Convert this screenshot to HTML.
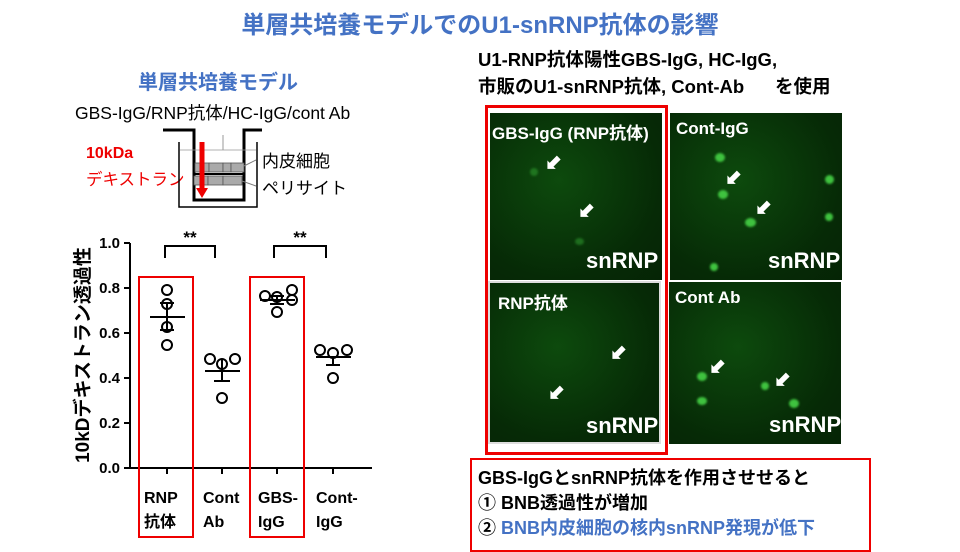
<!DOCTYPE html>
<html><head><meta charset="utf-8"><style>
body{margin:0;width:960px;height:540px;background:#fff;overflow:hidden;position:relative;font-family:"Liberation Sans","Noto Sans CJK JP",sans-serif;font-weight:bold}
.a{position:absolute;white-space:nowrap}
.p{position:absolute;background:radial-gradient(ellipse at 40% 40%,#0d4a0d,#062a06 70%,#052405);overflow:hidden}
.t{position:absolute;color:#fff;font-size:19px}
.n{position:absolute;border-radius:50%;background:#3fc23f;filter:blur(1px)}
.ar{position:absolute;color:#fff;font-size:20px;line-height:20px}
</style></head><body>
<div class="a" style="left:0;width:960px;text-align:center;top:5px;font-size:24px;color:#4472c4">単層共培養モデルでのU1-snRNP抗体の影響</div>
<div class="a" style="left:138px;top:66px;font-size:20px;color:#4472c4">単層共培養モデル</div>
<div class="a" style="left:75px;top:100px;font-size:17.5px;font-weight:normal">GBS-IgG/RNP抗体/HC-IgG/cont Ab</div>
<div class="a" style="left:86px;top:145px;font-size:16px;color:#e00">10kDa</div>
<div class="a" style="left:86px;top:166px;font-size:16.5px;color:#e00;font-weight:normal">デキストラン</div>
<div class="a" style="left:262px;top:147px;font-size:17px;font-weight:normal">内皮細胞</div>
<div class="a" style="left:262px;top:174px;font-size:17px;font-weight:normal">ペリサイト</div>
<svg class="a" style="left:0;top:0" width="470" height="540">
<path d="M163 130H194V200H244V130H262" fill="none" stroke="#000" stroke-width="3"/>
<path d="M179 142V207H257V142" fill="none" stroke="#000" stroke-width="1.5"/>
<line x1="180" y1="150" x2="256" y2="150" stroke="#999" stroke-width="0.8"/>
<line x1="223" y1="135" x2="223" y2="150" stroke="#999"/>
<g fill="#aaa" stroke="#555" stroke-width="0.8"><rect x="195" y="163" width="14" height="9"/><rect x="209" y="163" width="14" height="9"/><rect x="223" y="163" width="8" height="9"/><rect x="231" y="163" width="13" height="9"/>
<rect x="194" y="176" width="14" height="9"/><rect x="208" y="176" width="15" height="9"/><rect x="223" y="176" width="19" height="9"/></g>
<line x1="194" y1="174" x2="244" y2="174" stroke="#000" stroke-width="2"/>
<line x1="244" y1="166" x2="256" y2="160" stroke="#777"/><line x1="242" y1="181" x2="256" y2="186" stroke="#777"/>
<line x1="202" y1="142" x2="202" y2="190" stroke="#e00" stroke-width="5"/><path d="M196 188h12l-6 10z" fill="#e00"/>
<g stroke="#000" stroke-width="2" fill="none">
<line x1="130" y1="243" x2="130" y2="468"/><line x1="130" y1="468" x2="372" y2="468"/>
<line x1="124" y1="243" x2="130" y2="243"/><line x1="124" y1="288" x2="130" y2="288"/><line x1="124" y1="333" x2="130" y2="333"/><line x1="124" y1="378" x2="130" y2="378"/><line x1="124" y1="423" x2="130" y2="423"/><line x1="124" y1="468" x2="130" y2="468"/>
<line x1="167" y1="468" x2="167" y2="474"/><line x1="222" y1="468" x2="222" y2="474"/><line x1="277" y1="468" x2="277" y2="474"/><line x1="333" y1="468" x2="333" y2="474"/>
<path d="M165 258V246H215V258"/><path d="M274 258V246H326V258"/>
<line x1="150" y1="317" x2="185" y2="317"/><line x1="167" y1="303" x2="167" y2="330"/><line x1="160" y1="303" x2="174" y2="303"/><line x1="160" y1="330" x2="174" y2="330"/>
<line x1="205" y1="371" x2="240" y2="371"/><line x1="222" y1="360" x2="222" y2="381"/><line x1="214" y1="381" x2="230" y2="381"/>
<line x1="260" y1="300" x2="295" y2="300"/><line x1="277" y1="296" x2="277" y2="304"/><line x1="270" y1="296" x2="284" y2="296"/><line x1="270" y1="304" x2="284" y2="304"/>
<line x1="316" y1="357" x2="351" y2="357"/><line x1="333" y1="357" x2="333" y2="365"/><line x1="326" y1="365" x2="340" y2="365"/>
<g stroke-width="2"><circle cx="167" cy="290" r="5"/><circle cx="167" cy="304" r="5"/><circle cx="167" cy="327" r="5"/><circle cx="167" cy="345" r="5"/>
<circle cx="210" cy="359" r="5"/><circle cx="222" cy="364" r="5"/><circle cx="235" cy="359" r="5"/><circle cx="222" cy="398" r="5"/>
<circle cx="265" cy="296" r="5"/><circle cx="277" cy="297" r="5"/><circle cx="292" cy="290" r="5"/><circle cx="292" cy="300" r="5"/><circle cx="277" cy="312" r="5"/>
<circle cx="320" cy="350" r="5"/><circle cx="333" cy="353" r="5"/><circle cx="347" cy="350" r="5"/><circle cx="333" cy="378" r="5"/></g>
</g>
<g font-size="15" text-anchor="end" font-family="Liberation Sans" font-weight="bold"><text x="120" y="248">1.0</text><text x="120" y="293">0.8</text><text x="120" y="338">0.6</text><text x="120" y="383">0.4</text><text x="120" y="428">0.2</text><text x="120" y="473">0.0</text></g>
<text x="190" y="243" font-size="17" text-anchor="middle">**</text><text x="300" y="243" font-size="17" text-anchor="middle">**</text>
<text transform="translate(89,355) rotate(-90)" font-size="19" text-anchor="middle" font-family="Liberation Sans,Noto Sans CJK JP">10kDデキストラン透過性</text>
<rect x="139" y="277" width="54" height="260" fill="none" stroke="#e00" stroke-width="2"/>
<rect x="250" y="277" width="54" height="260" fill="none" stroke="#e00" stroke-width="2"/>
<g font-size="16" font-family="Liberation Sans,Noto Sans CJK JP"><text x="144" y="503">RNP</text><text x="144" y="527">抗体</text><text x="203" y="503">Cont</text><text x="203" y="527">Ab</text><text x="258" y="503">GBS-</text><text x="258" y="527">IgG</text><text x="316" y="503">Cont-</text><text x="316" y="527">IgG</text></g>
</svg>
<div class="a" style="left:478px;top:46px;font-size:18.5px">U1-RNP抗体陽性GBS-IgG, HC-IgG,</div>
<div class="a" style="left:478px;top:73px;font-size:18.5px">市販のU1-snRNP抗体, Cont-Ab&nbsp;&nbsp;&nbsp;&nbsp;&nbsp;&nbsp;を使用</div>
<div class="p" style="left:490px;top:113px;width:172px;height:167px">
<div class="n" style="left:40px;top:55px;width:8px;height:8px;opacity:.4"></div><div class="n" style="left:85px;top:125px;width:9px;height:7px;opacity:.4"></div>
<div class="t" style="left:2px;top:6px;font-size:17px">GBS-IgG (RNP抗体)</div><div class="ar" style="left:55px;top:40px">⬋</div><div class="ar" style="left:88px;top:88px">⬋</div>
<div class="t" style="left:96px;top:135px;font-size:22px">snRNP</div></div>
<div class="p" style="left:670px;top:113px;width:172px;height:167px">
<div class="n" style="left:45px;top:40px;width:10px;height:9px"></div><div class="n" style="left:48px;top:77px;width:10px;height:9px"></div><div class="n" style="left:75px;top:105px;width:11px;height:9px"></div><div class="n" style="left:155px;top:62px;width:9px;height:9px"></div><div class="n" style="left:155px;top:100px;width:8px;height:8px"></div><div class="n" style="left:40px;top:150px;width:8px;height:8px"></div>
<div class="t" style="left:6px;top:6px;font-size:17px">Cont-IgG</div><div class="ar" style="left:55px;top:55px">⬋</div><div class="ar" style="left:85px;top:85px">⬋</div>
<div class="t" style="left:98px;top:135px;font-size:22px">snRNP</div></div>
<div class="p" style="left:490px;top:283px;width:169px;height:159px;outline:2px solid #ddd">
<div class="t" style="left:8px;top:6px;font-size:17px">RNP抗体</div><div class="ar" style="left:120px;top:60px">⬋</div><div class="ar" style="left:58px;top:100px">⬋</div>
<div class="t" style="left:96px;top:130px;font-size:22px">snRNP</div></div>
<div class="p" style="left:669px;top:282px;width:172px;height:162px">
<div class="n" style="left:28px;top:90px;width:10px;height:9px"></div><div class="n" style="left:28px;top:115px;width:10px;height:8px"></div><div class="n" style="left:120px;top:117px;width:10px;height:9px"></div><div class="n" style="left:92px;top:100px;width:8px;height:8px"></div>
<div class="t" style="left:6px;top:6px;font-size:17px">Cont Ab</div><div class="ar" style="left:40px;top:75px">⬋</div><div class="ar" style="left:105px;top:88px">⬋</div>
<div class="t" style="left:100px;top:130px;font-size:22px">snRNP</div></div>
<div class="a" style="left:485px;top:105px;width:177px;height:344px;border:3px solid #e00"></div>
<div class="a" style="left:470px;top:458px;width:397px;height:90px;border:2px solid #e00"></div>
<div class="a" style="left:478px;top:464px;font-size:18px">GBS-IgGとsnRNP抗体を作用させせると</div>
<div class="a" style="left:478px;top:489px;font-size:18px">① BNB透過性が増加</div>
<div class="a" style="left:478px;top:514px;font-size:18px"><span>②</span> <span style="color:#4472c4">BNB内皮細胞の核内snRNP発現が低下</span></div>
</body></html>
